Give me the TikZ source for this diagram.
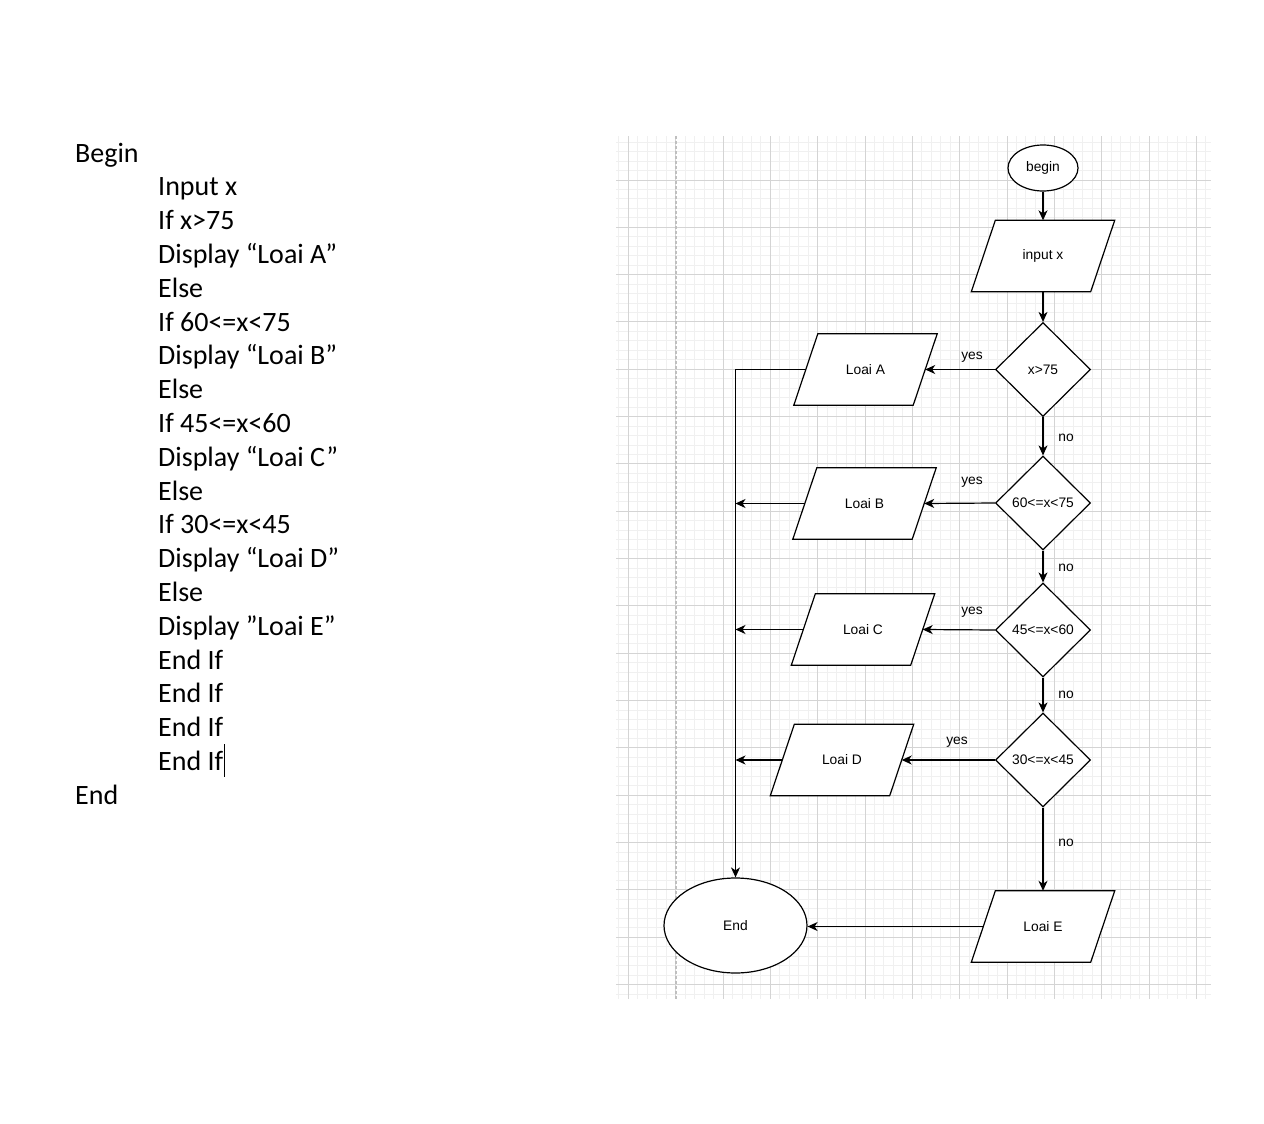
\documentclass[tikz,border=0pt]{standalone}
\usepackage{fontspec}
\setmainfont{Liberation Sans}
\newfontfamily\calibri{Carlito}
\usetikzlibrary{shapes.geometric,arrows.meta}
\pgfdeclarelayer{bglayer}
\pgfdeclarelayer{gridlayer}
\pgfdeclarelayer{shapelayer}
\pgfsetlayers{bglayer,gridlayer,shapelayer,main}
\newcommand\ftext{\fontsize{13.8}{16}\selectfont}
\newcommand\fcode{\calibri\fontsize{28}{32}\selectfont}
\newcommand\pgram[1]{\begin{pgfonlayer}{shapelayer}\draw[shapeline,fill=white] ([xshift=12]#1.north west) -- ([xshift=12]#1.north east) -- ([xshift=-12]#1.south east) -- ([xshift=-12]#1.south west) -- cycle;\end{pgfonlayer}}
\tikzset{
  shapeline/.style={draw=black,line width=1.2pt},
  minorgrid/.style={draw=black!6,line width=1pt},
  majorgrid/.style={draw=black!17,line width=1pt},
  pagebreak/.style={draw=black!25,line width=1.2pt,dash pattern=on 3pt off 2pt},
  term/.style={ellipse,shapeline,fill=white,inner sep=0,font=\ftext},
  io/.style={minimum width=119,minimum height=71,inner sep=0,font=\ftext},
  decision/.style={diamond,shapeline,fill=white,inner sep=0,minimum width=95,minimum height=94,font=\ftext},
  lbl/.style={font=\ftext,inner sep=0},
  code/.style={font=\fcode,anchor=base west,inner sep=0},
  arr/.style={line width=1.2pt,-{Stealth[length=10pt,width=9pt,inset=3pt]}},
  plain/.style={line width=1.2pt}
}
\begin{document}
\begin{tikzpicture}[x=1pt,y=-1pt]
\useasboundingbox (0,0) rectangle (1264,1124);
\begin{pgfonlayer}{bglayer}
\fill[white] (0,0) rectangle (1264,1124);
\end{pgfonlayer}
% grid
\begin{pgfonlayer}{gridlayer}
\foreach \i in {-1,...,61}{\pgfmathsetmacro\gx{628.4+9.466*\i}\draw[minorgrid] (\gx,136) -- (\gx,999);}
\foreach \j in {-4,...,86}{\pgfmathsetmacro\gy{180+9.466*\j}\draw[minorgrid] (616,\gy) -- (1211,\gy);}
\foreach \i in {0,...,12}{\pgfmathsetmacro\gx{628.4+47.33*\i}\draw[majorgrid] (\gx,136) -- (\gx,999);}
\foreach \j in {0,...,17}{\pgfmathsetmacro\gy{180+47.33*\j}\draw[majorgrid] (616,\gy) -- (1211,\gy);}
\draw[pagebreak] (676,136) -- (676,999);
\end{pgfonlayer}
% pseudo code
\node[code] (c1) at (75,162) {Begin};
\node[code] (c2) at (158,195.8) {Input x};
\node[code] (c3) at (158,229.6) {If x>75};
\node[code] (c4) at (158,263.4) {Display “Loai A”};
\node[code] (c5) at (158,297.2) {Else};
\node[code] (c6) at (158,331) {If 60<=x<75};
\node[code] (c7) at (158,364.8) {Display “Loai B”};
\node[code] (c8) at (158,398.6) {Else};
\node[code] (c9) at (158,432.4) {If 45<=x<60};
\node[code] (c10) at (158,466.2) {Display “Loai C”};
\node[code] (c11) at (158,500) {Else};
\node[code] (c12) at (158,533.8) {If 30<=x<45};
\node[code] (c13) at (158,567.6) {Display “Loai D”};
\node[code] (c14) at (158,601.4) {Else};
\node[code] (c15) at (158,635.2) {Display ”Loai E”};
\node[code] (c16) at (158,669) {End If};
\node[code] (c17) at (158,702.8) {End If};
\node[code] (c18) at (158,736.6) {End If};
\node[code] (c19) at (158,770.4) {End If};
\node[code] (c20) at (75,804.2) {End};
\draw[line width=1.1pt] (c19.east) ++(1.5,0) coordinate (cur) (cur |- 0,744) -- (cur |- 0,777);
% flowchart nodes
\node[term,minimum width=70,minimum height=46] (begin) at (1043,168) {begin};
\node[io] (inp) at (1043,256) {input x}; \pgram{inp}
\node[decision] (d1) at (1043,369.5) {x>75};
\node[decision] (d2) at (1043,503) {60<=x<75};
\node[decision] (d3) at (1043,630) {45<=x<60};
\node[decision] (d4) at (1043,760) {30<=x<45};
\node[io] (la) at (865.5,369.5) {Loai A}; \pgram{la}
\node[io] (lb) at (864.5,503.5) {Loai B}; \pgram{lb}
\node[io] (lc) at (863,629.5) {Loai C}; \pgram{lc}
\node[io] (ld) at (842,760) {Loai D}; \pgram{ld}
\node[io] (le) at (1043,926.5) {Loai E}; \pgram{le}
\node[term,minimum width=143,minimum height=95] (end) at (735.5,925.5) {End};
% labels
\node[lbl] (y1) at (972,357) {yes};
\node[lbl] (y2) at (972,482) {yes};
\node[lbl] (y3) at (972,612) {yes};
\node[lbl] (y4) at (957,742) {yes};
\node[lbl] (n1) at (1066,438) {no};
\node[lbl] (n2) at (1066,568) {no};
\node[lbl] (n3) at (1066,695) {no};
\node[lbl] (n4) at (1066,843) {no};
% connectors
\coordinate (jb) at (end.north |- lb.west);
\coordinate (jc) at (end.north |- lc.west);
\coordinate (jd) at (end.north |- ld.west);
\draw[arr] (begin) -- (inp);
\draw[arr] (inp) -- (d1);
\draw[arr] (d1) -- (d2);
\draw[arr] (d2) -- (d3);
\draw[arr] (d3) -- (d4);
\draw[arr] (d4) -- (le);
\draw[arr] (d1.west) -- (la.east);
\draw[arr] (d2.west) -- (lb.east);
\draw[arr] (d3.west) -- (lc.east);
\draw[arr] (d4.west) -- (ld.east);
\draw[arr] (la.west) -| (end.north);
\draw[arr] (lb.west) -- (jb);
\draw[arr] (lc.west) -- (jc);
\draw[arr] (ld.west) -- (jd);
\draw[arr] (le.west) -- (le.west -| end.east);
\end{tikzpicture}
\end{document}
